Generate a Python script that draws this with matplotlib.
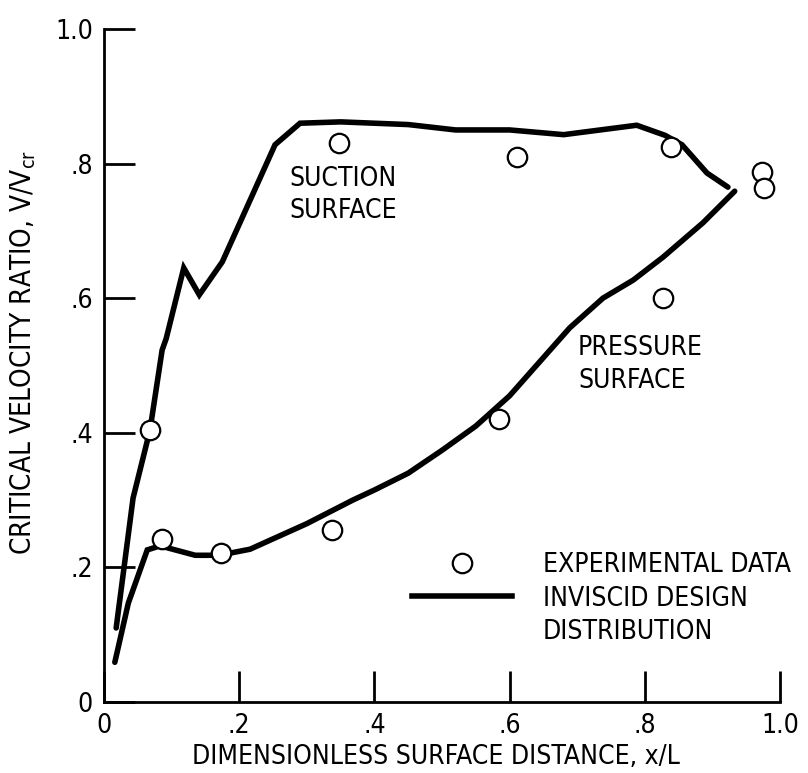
import matplotlib
matplotlib.use("Agg")
import matplotlib.pyplot as plt
from matplotlib.lines import Line2D

plt.rcParams['font.family'] = ['DejaVu Sans']
plt.rcParams['font.stretch'] = 'condensed'

# inviscid design distribution, suction surface
suction_x = [0.018, 0.043, 0.068, 0.086, 0.092, 0.118, 0.141, 0.175, 0.253, 0.29, 0.35,
             0.45, 0.52, 0.6, 0.68, 0.788, 0.83, 0.855, 0.892, 0.923]
suction_y = [0.11, 0.303, 0.404, 0.523, 0.54, 0.645, 0.605, 0.654, 0.828, 0.86, 0.862,
             0.858, 0.85, 0.85, 0.843, 0.857, 0.842, 0.828, 0.786, 0.765]

# inviscid design distribution, pressure surface
pressure_x = [0.016, 0.036, 0.064, 0.083, 0.135, 0.17, 0.216, 0.3, 0.368, 0.4, 0.45, 0.5,
              0.55, 0.6, 0.689, 0.738, 0.783, 0.827, 0.886, 0.933]
pressure_y = [0.059, 0.147, 0.226, 0.232, 0.218, 0.218, 0.227, 0.265, 0.30, 0.315, 0.34,
              0.374, 0.41, 0.455, 0.556, 0.60, 0.627, 0.661, 0.712, 0.759]

# experimental data
exp_x = [0.068, 0.086, 0.173, 0.337, 0.348, 0.611, 0.839, 0.973, 0.976, 0.827, 0.584]
exp_y = [0.404, 0.242, 0.221, 0.256, 0.83, 0.81, 0.825, 0.787, 0.764, 0.60, 0.42]

ticks = [0, 0.2, 0.4, 0.6, 0.8, 1.0]
tick_labels = ['0', '.2', '.4', '.6', '.8', '1.0']

fs = 19

fig = plt.figure(figsize=(8.08, 7.73), dpi=100)
ax = fig.add_axes([104 / 808, 71 / 773, 676 / 808, 673 / 773])

ax.plot(suction_x, suction_y, color='black', lw=4, solid_capstyle='round', solid_joinstyle='miter')
ax.plot(pressure_x, pressure_y, color='black', lw=4, solid_capstyle='round', solid_joinstyle='miter')
ax.plot(exp_x, exp_y, linestyle='none', marker='o', ms=14, mfc='white', mec='black', mew=1.6)

ax.set_xlim(0, 1)
ax.set_ylim(0, 1)
ax.set_xticks(ticks)
ax.set_xticklabels(tick_labels)
ax.set_yticks(ticks)
ax.set_yticklabels(tick_labels)
ax.tick_params(direction='in', length=22, width=2, labelsize=fs, pad=8)
for side in ['top', 'right']:
    ax.spines[side].set_visible(False)
for side in ['left', 'bottom']:
    ax.spines[side].set_linewidth(2)

ax.set_xlabel('DIMENSIONLESS SURFACE DISTANCE, x/L', fontsize=fs)
ax.xaxis.set_label_coords(0.491, -0.062)
ax.set_ylabel('CRITICAL VELOCITY RATIO, V/V$_{\\mathregular{cr}}$', fontsize=fs + 1)
ax.yaxis.set_label_coords(-0.097, 0.519)

ax.text(0.274, 0.797, 'SUCTION\nSURFACE', fontsize=fs, va='top', ha='left', linespacing=1.33)
ax.text(0.701, 0.545, 'PRESSURE\nSURFACE', fontsize=fs, va='top', ha='left', linespacing=1.33)

handles = [
    Line2D([], [], linestyle='none', marker='o', ms=14, mfc='white', mec='black', mew=1.6),
    Line2D([], [], color='black', lw=4),
    Line2D([], [], linestyle='none'),
]
labels = ['EXPERIMENTAL DATA', 'INVISCID DESIGN', 'DISTRIBUTION']
ax.legend(handles, labels, loc='upper left', bbox_to_anchor=(0.455, 0.2225), frameon=False,
          fontsize=fs, handlelength=3.8, handletextpad=1.17, labelspacing=0.28,
          borderpad=0, borderaxespad=0)

fig.savefig('out.png', dpi=100)
